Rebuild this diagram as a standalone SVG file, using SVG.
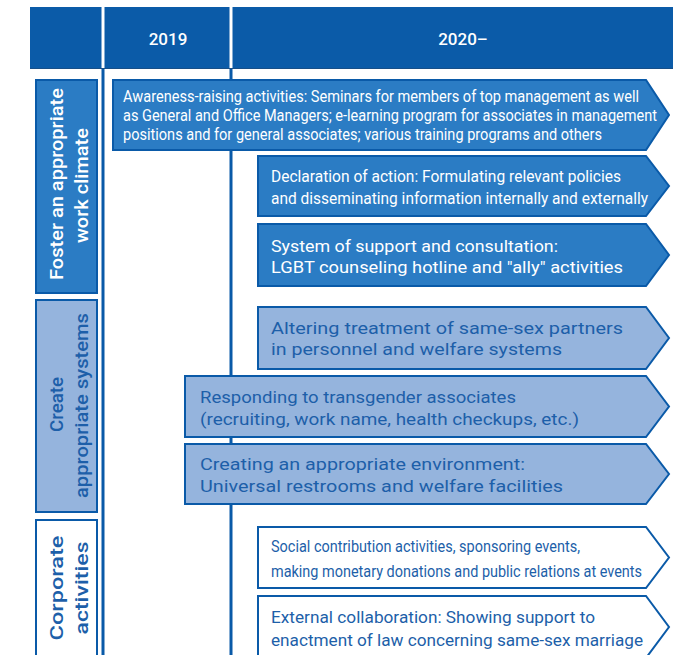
<svg xmlns="http://www.w3.org/2000/svg" width="700" height="655" viewBox="0 0 700 655">
<style>
.hdr{fill:#0b5ba8}
.hl{stroke:#fff;stroke-width:3}
.vl{stroke:#0a5aa8;stroke-width:3}
.mid{fill:#2b7cc4;stroke:#0a5aa8;stroke-width:2}
.lt{fill:#95b4dd;stroke:#0a5aa8;stroke-width:2}
.wt{fill:#fff;stroke:#0a5aa8;stroke-width:2}
.ht{font-family:Roboto,"Liberation Sans",sans-serif;font-size:17px;font-weight:500;fill:#fff;text-anchor:middle}
.cat{font-family:Roboto,"Liberation Sans",sans-serif;font-size:19px;font-weight:500;text-anchor:middle}
.tx{font-family:Roboto,"Liberation Sans",sans-serif;font-size:16px}
.w{fill:#fff}
.b{fill:#1d5fa9}
</style>
<g id="header">
<rect class="hdr" x="30" y="7" width="643" height="62"/>
<line x1="30" y1="68.5" x2="673" y2="68.5" stroke="#174f88" stroke-width="1"/>
<line class="hl" x1="103" y1="7" x2="103" y2="68"/>
<line class="hl" x1="231" y1="7" x2="231" y2="68"/>
<text class="ht" x="168" y="45">2019</text>
<text class="ht" x="463" y="45">2020–</text>
</g>
<g id="connectors">
<line class="vl" x1="103" y1="69" x2="103" y2="655"/>
<line class="vl" x1="231" y1="69" x2="231" y2="655"/>
</g>
<g id="cat1">
<rect class="mid" x="36" y="80" width="61" height="213"/>
<text class="cat w" transform="translate(63,184) rotate(-90)" textLength="192" lengthAdjust="spacingAndGlyphs">Foster an appropriate</text>
<text class="cat w" transform="translate(88,185.5) rotate(-90)" textLength="115" lengthAdjust="spacingAndGlyphs">work climate</text>
</g>
<g id="cat2">
<rect class="lt" x="36" y="300" width="61" height="212"/>
<text class="cat b" transform="translate(63,404.5) rotate(-90)" textLength="55" lengthAdjust="spacingAndGlyphs">Create</text>
<text class="cat b" transform="translate(88,405.5) rotate(-90)" textLength="185" lengthAdjust="spacingAndGlyphs">appropriate systems</text>
</g>
<g id="cat3">
<rect class="wt" x="36" y="520" width="61" height="150"/>
<text class="cat b" transform="translate(63,588) rotate(-90)" textLength="105" lengthAdjust="spacingAndGlyphs">Corporate</text>
<text class="cat b" transform="translate(88,588) rotate(-90)" textLength="93" lengthAdjust="spacingAndGlyphs">activities</text>
</g>
<g id="a1">
<polygon class="mid" points="113,80 646,80 669,115 646,150 113,150"/>
<text class="tx w" font-size="15" x="123" y="102" textLength="516" lengthAdjust="spacingAndGlyphs">Awareness-raising activities: Seminars for members of top management as well</text>
<text class="tx w" font-size="15" x="123" y="121" textLength="534" lengthAdjust="spacingAndGlyphs">as General and Office Managers; e-learning program for associates in management</text>
<text class="tx w" font-size="15" x="123" y="140" textLength="479" lengthAdjust="spacingAndGlyphs">positions and for general associates; various training programs and others</text>
</g>
<g id="a2">
<polygon class="mid" points="258,156 646,156 669,186 646,216 258,216"/>
<text class="tx w" x="271" y="182" textLength="350" lengthAdjust="spacingAndGlyphs">Declaration of action: Formulating relevant policies</text>
<text class="tx w" x="271" y="204" textLength="377" lengthAdjust="spacingAndGlyphs">and disseminating information internally and externally</text>
</g>
<g id="a3">
<polygon class="mid" points="258,224 646,224 669,255 646,286 258,286"/>
<text class="tx w" font-size="17" x="271" y="252" textLength="287" lengthAdjust="spacingAndGlyphs">System of support and consultation:</text>
<text class="tx w" font-size="17" x="271" y="273" textLength="352" lengthAdjust="spacingAndGlyphs">LGBT counseling hotline and "ally" activities</text>
</g>
<g id="b1">
<polygon class="lt" points="258,307 646,307 669,338 646,369 258,369"/>
<text class="tx b" font-size="17" x="271" y="334" textLength="352" lengthAdjust="spacingAndGlyphs">Altering treatment of same-sex partners</text>
<text class="tx b" font-size="17" x="271" y="355" textLength="291" lengthAdjust="spacingAndGlyphs">in personnel and welfare systems</text>
</g>
<g id="b2">
<polygon class="lt" points="185,376 646,376 669,406.5 646,437 185,437"/>
<text class="tx b" font-size="17" x="200" y="403" textLength="316" lengthAdjust="spacingAndGlyphs">Responding to transgender associates</text>
<text class="tx b" font-size="17" x="200" y="425" textLength="379" lengthAdjust="spacingAndGlyphs">(recruiting, work name, health checkups, etc.)</text>
</g>
<g id="b3">
<polygon class="lt" points="185,444 646,444 669,474 646,504 185,504"/>
<text class="tx b" font-size="17" x="200" y="470" textLength="325" lengthAdjust="spacingAndGlyphs">Creating an appropriate environment:</text>
<text class="tx b" font-size="17" x="200" y="492" textLength="363" lengthAdjust="spacingAndGlyphs">Universal restrooms and welfare facilities</text>
</g>
<g id="c1">
<polygon class="wt" points="258,527 646,527 669,557.5 646,588 258,588"/>
<text class="tx b" x="271" y="552" textLength="309" lengthAdjust="spacingAndGlyphs">Social contribution activities, sponsoring events,</text>
<text class="tx b" x="271" y="577" textLength="371" lengthAdjust="spacingAndGlyphs">making monetary donations and public relations at events</text>
</g>
<g id="c2">
<polygon class="wt" points="258,596 646,596 669,627 646,658 258,658"/>
<text class="tx b" font-size="17" x="271" y="623" textLength="324" lengthAdjust="spacingAndGlyphs">External collaboration: Showing support to</text>
<text class="tx b" font-size="17" x="271" y="646" textLength="372" lengthAdjust="spacingAndGlyphs">enactment of law concerning same-sex marriage</text>
</g>
</svg>
